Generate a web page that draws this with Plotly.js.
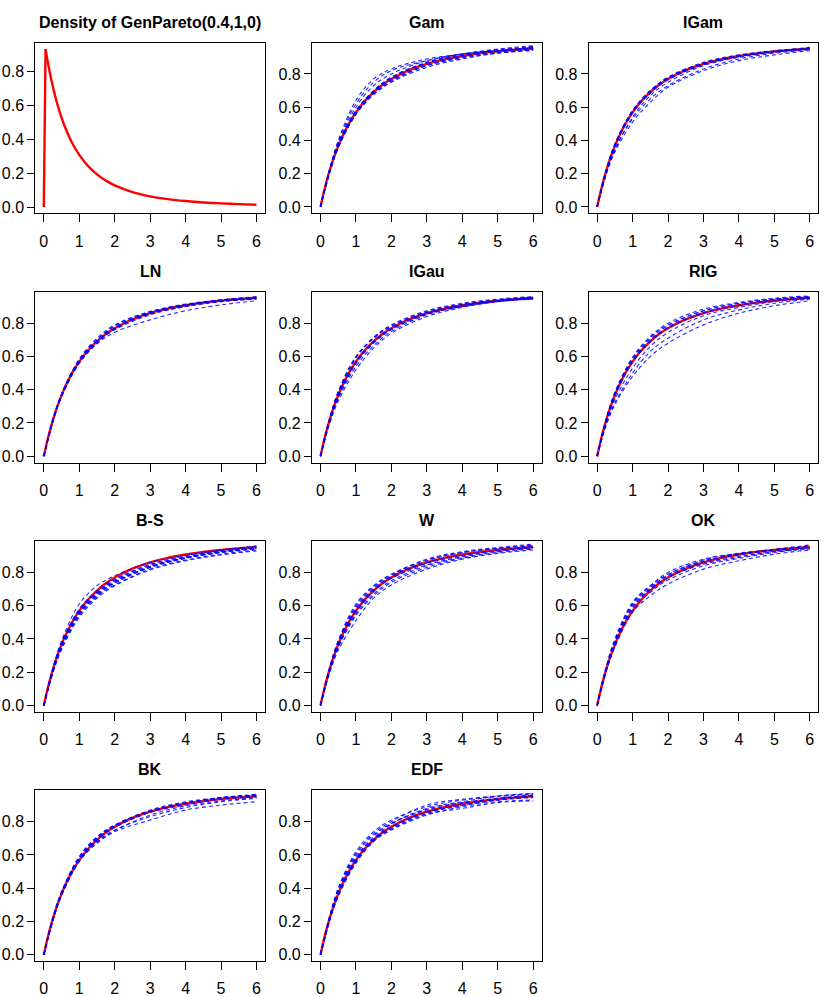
<!DOCTYPE html>
<html>
<head>
<meta charset="utf-8">
<script src="https://cdn.plot.ly/plotly-3.0.1.min.js"></script>
<style>html,body{margin:0;padding:0;background:#fff;}#chart{width:830px;height:997px;}</style>
</head>
<body>
<div id="chart"></div>
<script>
// ---- data ----
const densityTitle = "Density of GenPareto(0.4,1,0)";
const densX = [0,0.05,0.1,0.2,0.3,0.4,0.5,0.6,0.8,1,1.25,1.5,1.75,2,2.5,3,3.5,4,4.5,5,5.5,6];
const densY = [0,0.933,0.872,0.764,0.673,0.595,0.528,0.471,0.378,0.308,0.242,0.193,0.156,0.128,0.0884,0.0633,0.0467,0.0353,0.0272,0.0214,0.0171,0.0138];

const cdfX = [0,0.1,0.2,0.3,0.4,0.5,0.6,0.8,1,1.25,1.5,1.75,2,2.5,3,3.5,4,4.5,5,5.5,6];
const cdfY = [0,0.093,0.175,0.247,0.310,0.366,0.416,0.501,0.569,0.637,0.691,0.735,0.770,0.823,0.861,0.888,0.908,0.924,0.936,0.945,0.953];

const estX = [0,0.25,0.5,1,1.5,2,3,4,5,6];

const panelTitles = ["Gam","IGam","LN","IGau","RIG","B-S","W","OK","BK","EDF"];

const estGam = [
 [0,.22,.40,.64,.77,.83,.89,.92,.945,.96],
 [0,.22,.39,.62,.75,.82,.88,.92,.94,.955],
 [0,.21,.38,.60,.73,.80,.88,.92,.94,.96],
 [0,.21,.37,.57,.69,.765,.855,.905,.935,.95],
 [0,.20,.36,.56,.68,.755,.85,.90,.93,.945],
 [0,.21,.365,.57,.70,.78,.87,.915,.945,.965],
 [0,.20,.355,.555,.675,.75,.84,.89,.925,.94],
 [0,.21,.37,.575,.695,.775,.865,.91,.94,.955],
 [0,.205,.36,.56,.685,.76,.85,.895,.925,.945],
 [0,.215,.375,.58,.70,.78,.87,.92,.95,.97]
];
const estIGam = [
 [0,.22,.38,.58,.70,.78,.87,.915,.94,.955],
 [0,.21,.37,.57,.69,.77,.86,.91,.935,.95],
 [0,.20,.35,.53,.65,.73,.83,.89,.925,.945],
 [0,.19,.33,.51,.63,.72,.82,.88,.915,.94],
 [0,.21,.365,.565,.685,.765,.855,.905,.935,.955],
 [0,.215,.375,.58,.70,.78,.865,.91,.935,.95],
 [0,.20,.34,.54,.67,.75,.85,.90,.93,.95],
 [0,.21,.37,.575,.695,.775,.86,.905,.935,.96]
];
const estLN = [
 [0,.21,.365,.57,.69,.77,.86,.905,.935,.95],
 [0,.215,.37,.58,.70,.785,.87,.915,.94,.955],
 [0,.205,.36,.56,.675,.745,.82,.875,.91,.935],
 [0,.21,.37,.575,.70,.78,.865,.91,.94,.96],
 [0,.205,.36,.56,.68,.76,.85,.90,.93,.945],
 [0,.215,.375,.585,.71,.79,.87,.91,.935,.95],
 [0,.21,.365,.565,.685,.765,.86,.91,.94,.955],
 [0,.205,.36,.565,.69,.77,.855,.90,.93,.945]
];
const estIGau = [
 [0,.22,.39,.60,.71,.78,.865,.91,.935,.95],
 [0,.21,.37,.57,.69,.77,.86,.905,.935,.95],
 [0,.19,.33,.52,.65,.74,.84,.895,.93,.945],
 [0,.20,.345,.54,.665,.75,.85,.90,.93,.95],
 [0,.215,.38,.59,.71,.785,.87,.915,.94,.955],
 [0,.21,.365,.565,.685,.765,.855,.90,.93,.945],
 [0,.22,.385,.595,.715,.79,.875,.92,.945,.96],
 [0,.205,.355,.555,.68,.76,.855,.905,.935,.955]
];
const estRIG = [
 [0,.18,.31,.48,.60,.68,.79,.86,.905,.935],
 [0,.19,.32,.50,.63,.71,.82,.88,.92,.945],
 [0,.20,.34,.53,.66,.745,.845,.895,.93,.95],
 [0,.215,.38,.59,.715,.79,.875,.92,.945,.96],
 [0,.22,.385,.595,.72,.80,.885,.925,.95,.965],
 [0,.21,.37,.575,.695,.775,.865,.91,.94,.955],
 [0,.205,.36,.565,.69,.77,.86,.905,.935,.95],
 [0,.215,.375,.58,.705,.785,.875,.92,.945,.96]
];
const estBS = [
 [0,.22,.39,.61,.72,.78,.86,.905,.935,.955],
 [0,.21,.37,.57,.68,.75,.84,.89,.925,.945],
 [0,.20,.355,.55,.66,.735,.83,.885,.92,.94],
 [0,.195,.345,.54,.655,.725,.82,.875,.91,.935],
 [0,.205,.36,.56,.675,.745,.835,.89,.925,.95],
 [0,.20,.35,.545,.665,.74,.835,.89,.925,.945],
 [0,.215,.375,.58,.69,.76,.85,.90,.935,.96],
 [0,.21,.365,.565,.68,.755,.845,.895,.93,.95],
 [0,.19,.335,.53,.645,.72,.815,.87,.905,.93],
 [0,.205,.36,.555,.67,.74,.83,.885,.92,.945]
];
const estW = [
 [0,.22,.39,.61,.72,.79,.875,.92,.945,.965],
 [0,.20,.35,.54,.66,.74,.83,.885,.92,.94],
 [0,.19,.33,.51,.645,.725,.82,.88,.915,.935],
 [0,.21,.37,.58,.70,.775,.86,.905,.935,.955],
 [0,.215,.38,.59,.705,.78,.87,.92,.945,.96],
 [0,.205,.355,.56,.685,.765,.855,.90,.93,.95],
 [0,.21,.365,.57,.69,.765,.845,.895,.93,.95],
 [0,.22,.385,.60,.715,.785,.88,.925,.95,.97],
 [0,.20,.35,.55,.67,.75,.84,.89,.925,.945]
];
const estOK = [
 [0,.23,.40,.62,.72,.79,.87,.91,.935,.96],
 [0,.22,.39,.61,.71,.78,.865,.905,.93,.95],
 [0,.21,.37,.60,.70,.77,.855,.895,.925,.95],
 [0,.20,.35,.56,.66,.73,.82,.87,.91,.935],
 [0,.215,.38,.59,.705,.785,.875,.915,.94,.965],
 [0,.22,.385,.615,.72,.80,.88,.915,.935,.955],
 [0,.205,.36,.57,.68,.755,.84,.885,.92,.945],
 [0,.215,.375,.585,.695,.77,.85,.89,.925,.94]
];
const estBK = [
 [0,.21,.37,.58,.70,.77,.86,.91,.94,.955],
 [0,.20,.36,.57,.68,.75,.83,.885,.92,.94],
 [0,.21,.365,.565,.67,.74,.81,.87,.90,.92],
 [0,.215,.375,.59,.71,.78,.87,.92,.945,.96],
 [0,.205,.36,.57,.69,.765,.855,.90,.935,.95],
 [0,.22,.38,.59,.705,.78,.865,.915,.945,.965],
 [0,.20,.355,.56,.675,.745,.84,.895,.925,.945],
 [0,.21,.37,.575,.695,.775,.86,.91,.945,.96]
];
const estEDF = [
 [0,.22,.40,.62,.74,.81,.89,.93,.95,.965],
 [0,.21,.37,.58,.71,.79,.87,.91,.94,.96],
 [0,.20,.36,.56,.69,.76,.85,.90,.93,.95],
 [0,.22,.39,.60,.72,.79,.88,.92,.955,.97],
 [0,.20,.35,.55,.68,.75,.84,.89,.92,.93],
 [0,.215,.38,.59,.70,.77,.86,.90,.935,.955],
 [0,.21,.365,.57,.695,.785,.875,.915,.94,.96],
 [0,.205,.355,.56,.685,.755,.845,.88,.915,.925],
 [0,.225,.395,.61,.73,.80,.90,.935,.955,.97],
 [0,.20,.36,.565,.69,.765,.855,.895,.93,.945]
];
const estimates = [estGam, estIGam, estLN, estIGau, estRIG, estBS, estW, estOK, estBK, estEDF];

const xTicks = [0,1,2,3,4,5,6];
const yTicks = [0,0.2,0.4,0.6,0.8];

// ---- layout geometry (pixels) ----
const W = 830, H = 997;
const colW = W / 3, rowH = H / 4;
const boxL = 35.3, boxR = 265, boxT = 42.7, boxB = 213.3, titleY = 22;
const fam = 'Liberation Sans, Arial, sans-serif';

const traces = [];
const layout = {
  width: W, height: H,
  margin: {l:0, r:0, t:0, b:0},
  paper_bgcolor: '#ffffff', plot_bgcolor: '#ffffff',
  showlegend: false,
  font: {family: fam, size: 16, color: '#000'},
  annotations: []
};

function axisBase() {
  return {
    showgrid: false, zeroline: false,
    showline: true, mirror: true, linecolor: '#000', linewidth: 1,
    ticks: 'outside', ticklen: 8, tickwidth: 1, tickcolor: '#000',
    tickfont: {family: fam, size: 16, color: '#000'},
    fixedrange: true
  };
}

const allTitles = [densityTitle].concat(panelTitles);
for (let i = 0; i < 11; i++) {
  const r = Math.floor(i / 3), c = i % 3;
  const n = i === 0 ? '' : String(i + 1);
  const xa = 'xaxis' + n, ya = 'yaxis' + n;
  const xd = [(boxL + c * colW) / W, (boxR + c * colW) / W];
  const yd = [1 - (boxB + r * rowH) / H, 1 - (boxT + r * rowH) / H];
  layout[xa] = Object.assign(axisBase(), {
    domain: xd, range: [-0.24, 6.24], tickvals: xTicks, ticktext: xTicks.map(String),
    anchor: 'y' + n, ticklabelstandoff: 5
  });
  layout[ya] = Object.assign(axisBase(), {
    domain: yd, range: i === 0 ? [-0.037, 0.971] : [-0.038, 0.988],
    tickvals: yTicks, ticktext: yTicks.map(v => v.toFixed(1)),
    anchor: 'x' + n, ticklen: 7, ticklabelstandoff: 0
  });
  layout.annotations.push({
    text: '<b>' + allTitles[i] + '</b>', xref: 'paper', yref: 'paper',
    x: (xd[0] + xd[1]) / 2, y: 1 - (titleY + r * rowH) / H,
    xanchor: 'center', yanchor: 'middle', showarrow: false,
    font: {family: fam, size: 16, color: '#000'}
  });

  if (i === 0) {
    // steep rise at the origin, then the smooth decay
    traces.push({x: densX.slice(0, 2), y: densY.slice(0, 2), xaxis: 'x', yaxis: 'y', mode: 'lines',
      line: {color: '#ff0000', width: 2.4}, hoverinfo: 'skip'});
    traces.push({x: densX.slice(1), y: densY.slice(1), xaxis: 'x', yaxis: 'y', mode: 'lines',
      line: {color: '#ff0000', width: 2.4, shape: 'spline', smoothing: 0.8}, hoverinfo: 'skip'});
  } else {
    traces.push({x: cdfX, y: cdfY, xaxis: 'x' + n, yaxis: 'y' + n, mode: 'lines',
      line: {color: '#ff0000', width: 2.4, shape: 'spline', smoothing: 0.8}, hoverinfo: 'skip'});
    estimates[i - 1].forEach(curve => {
      traces.push({x: estX, y: curve, xaxis: 'x' + n, yaxis: 'y' + n, mode: 'lines',
        opacity: 0.85,
        line: {color: '#0000ff', width: 1.1, dash: '4px,3px', shape: 'spline', smoothing: 1},
        hoverinfo: 'skip'});
    });
  }
}

Plotly.newPlot('chart', traces, layout, {staticPlot: true});
</script>
</body>
</html>
